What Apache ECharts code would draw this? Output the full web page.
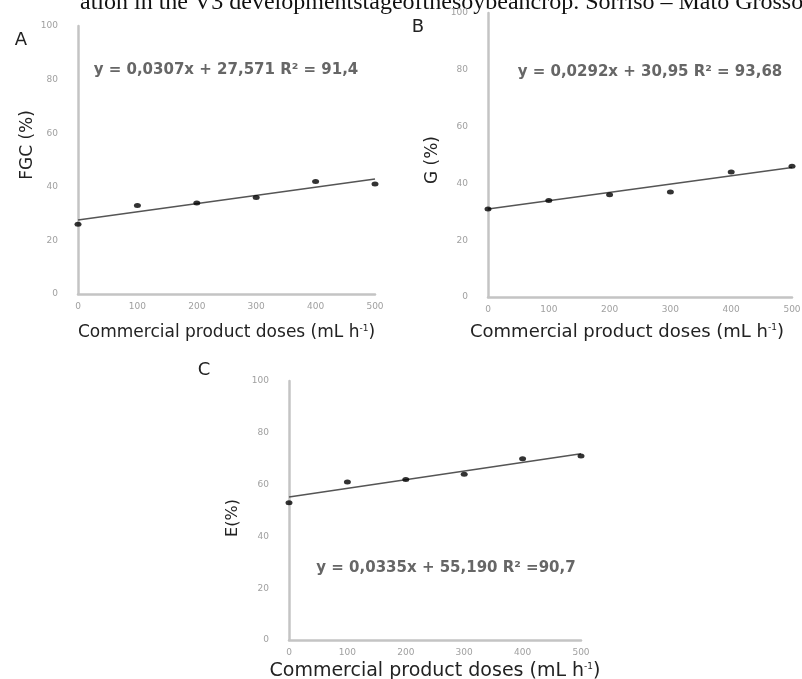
<!DOCTYPE html>
<html>
<head>
<meta charset="utf-8">
<script src="https://cdn.jsdelivr.net/npm/echarts@6/dist/echarts.min.js"></script>
<style>
  html, body { margin: 0; padding: 0; background: #fff; }
  #my_echart { width: 802px; height: 679px; }
</style>
</head>
<body>
<div id="my_echart"></div>
<script>
// doses on the x axis (mL h-1)
var doses = [0, 100, 200, 300, 400, 500];
var fgcValues = [26, 33, 34, 36, 42, 41];
var gValues = [31, 34, 36, 37, 44, 46];
var eValues = [53, 61, 62, 64, 70, 71];
// fitted line end points (x = 0 and x = 500)
var trendX = [0, 500];
var fgcTrend = [27.6, 42.9];
var gTrend = [31.0, 45.6];
var eTrend = [55.2, 71.9];
var yTicks = [0, 20, 40, 60, 80, 100];
var xTicks = [0, 100, 200, 300, 400, 500];

var xName = "Commercial product doses (mL h{sup|-1})";
var titleFont = "DejaVu Sans";

function pairs(xs, ys) {
  return xs.map(function (x, i) { return [x, ys[i]]; });
}

function makeX(idx, fontSize, gap, shiftLeft) {
  return {
    type: "value",
    gridIndex: idx,
    min: xTicks[0],
    max: xTicks[xTicks.length - 1],
    interval: 100,
    splitLine: { show: false },
    axisTick: { show: false },
    axisLine: { show: true, lineStyle: { color: "#c4c4c4", width: 2.5 } },
    axisLabel: { color: "#a0a0a0", fontSize: 9, margin: 8, fontFamily: "DejaVu Sans" },
    name: xName,
    nameLocation: "middle",
    nameGap: gap,
    nameTextStyle: {
      color: "#222",
      fontSize: fontSize,
      fontFamily: titleFont,
      padding: [0, shiftLeft || 0, 0, 0],
      rich: {
        sup: { fontSize: 9, color: "#222", padding: [0, 0, 9, 0], fontFamily: titleFont }
      }
    }
  };
}

function makeY(idx) {
  return {
    type: "value",
    gridIndex: idx,
    min: yTicks[0],
    max: yTicks[yTicks.length - 1],
    interval: 20,
    splitLine: { show: false },
    axisTick: { show: false },
    axisLine: { show: true, lineStyle: { color: "#c4c4c4", width: 2.5 } },
    axisLabel: { color: "#a0a0a0", fontSize: 9, margin: 20, fontFamily: "DejaVu Sans" }
  };
}

function pointSeries(idx, vals) {
  return {
    type: "scatter",
    xAxisIndex: idx,
    yAxisIndex: idx,
    data: pairs(doses, vals),
    symbol: "circle",
    symbolSize: [7, 5],
    itemStyle: { color: "#000" },
    z: 5
  };
}

function trendSeries(idx, vals) {
  return {
    type: "line",
    xAxisIndex: idx,
    yAxisIndex: idx,
    data: pairs(trendX, vals),
    showSymbol: false,
    lineStyle: { color: "#555", width: 1.6 },
    z: 4
  };
}

function txt(x, y, str, size, opts) {
  opts = opts || {};
  return {
    type: "text",
    x: x,
    y: y,
    rotation: opts.rotation || 0,
    style: {
      text: str,
      fontSize: size,
      fontFamily: opts.font || titleFont,
      fontWeight: opts.weight || "normal",
      fill: opts.color || "#222",
      align: opts.align || "center",
      verticalAlign: opts.valign || "middle"
    }
  };
}

var chart = echarts.init(document.getElementById("my_echart"));
var option = {
  animation: false,
  grid: [
    { left: 78, top: 26, width: 297, height: 268, outerBoundsMode: "none" },
    { left: 488, top: 13, width: 304, height: 284, outerBoundsMode: "none" },
    { left: 289, top: 381, width: 292, height: 259, outerBoundsMode: "none" }
  ],
  xAxis: [makeX(0, 17, 30), makeX(1, 18, 26, 26), makeX(2, 19, 22)],
  yAxis: [makeY(0), makeY(1), makeY(2)],
  series: [
    trendSeries(0, fgcTrend), pointSeries(0, fgcValues),
    trendSeries(1, gTrend), pointSeries(1, gValues),
    trendSeries(2, eTrend), pointSeries(2, eValues)
  ],
  graphic: [
    txt(80, 15, "ation in the V3 developmentstageofthesoybeancrop. Sorriso \u2013 Mato Grosso", 24,
      { font: "Liberation Serif", align: "left", valign: "bottom", color: "#111" }),
    txt(21, 40, "A", 18),
    txt(418, 27, "B", 18),
    txt(204, 370, "C", 18),
    txt(28, 145, "FGC (%)", 17, { rotation: Math.PI / 2 }),
    txt(433, 160, "G (%)", 17, { rotation: Math.PI / 2 }),
    txt(233, 518, "E(%)", 16, { rotation: Math.PI / 2 }),
    txt(226, 70, "y = 0,0307x + 27,571 R\u00b2 = 91,4", 15, { weight: "bold", color: "#666" }),
    txt(650, 72, "y = 0,0292x + 30,95 R\u00b2 = 93,68", 15, { weight: "bold", color: "#666" }),
    txt(446, 568, "y = 0,0335x + 55,190 R\u00b2 =90,7", 15, { weight: "bold", color: "#666" })
  ]
};
chart.setOption(option);
</script>
</body>
</html>
